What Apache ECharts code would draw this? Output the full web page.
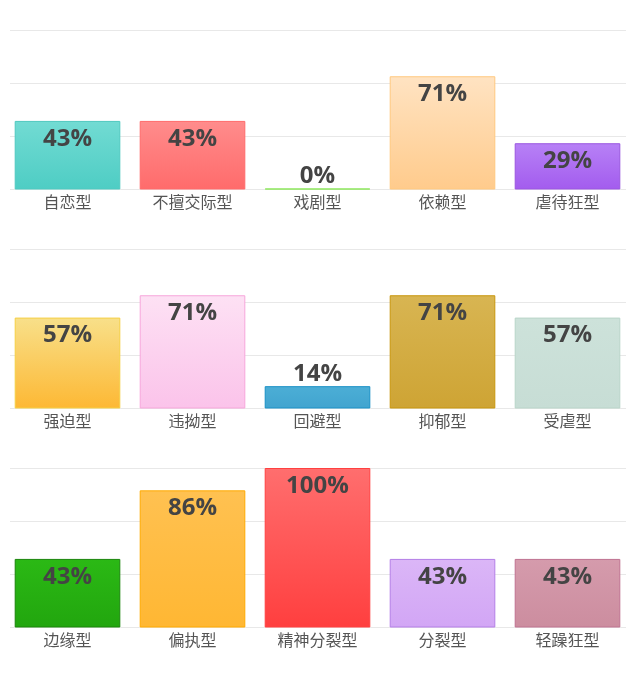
<!DOCTYPE html>
<html>
<head>
<meta charset="utf-8">
<script src="https://cdn.jsdelivr.net/npm/echarts@6/dist/echarts.min.js"></script>
<style>
  html, body { margin: 0; padding: 0; background: #fff; }
  #chart { width: 635px; height: 690px; }
</style>
</head>
<body>
<div id="chart"></div>
<script>
// three rows of personality types, value = percentage
const row1Names = ["自恋型", "不擅交际型", "戏剧型", "依赖型", "虐待狂型"];
const row1Values = [43, 43, 0, 71, 29];
const row2Names = ["强迫型", "违拗型", "回避型", "抑郁型", "受虐型"];
const row2Values = [57, 71, 14, 71, 57];
const row3Names = ["边缘型", "偏执型", "精神分裂型", "分裂型", "轻躁狂型"];
const row3Values = [43, 86, 100, 43, 43];

// [top, bottom, border]
const row1Colors = [
  ["#72dbd3", "#4ecdc4", "#4fc9c0"],
  ["#ff8c8c", "#ff6b6b", "#ff6b6b"],
  ["#a6ef72", "#8be65a", "#8be65a"],
  ["#ffe3c2", "#ffcb8c", "#ffc87f"],
  ["#b781f6", "#a35cee", "#9a56e0"]
];
const row2Colors = [
  ["#f8e08a", "#fdb834", "#f5cf45"],
  ["#fde1f4", "#fbc3ea", "#f7a6db"],
  ["#4caed6", "#41a4cf", "#1a90c6"],
  ["#d8b552", "#cea434", "#c8960c"],
  ["#cde2da", "#c7ddd5", "#b9d5c9"]
];
const row3Colors = [
  ["#2bb915", "#22a60e", "#1a850b"],
  ["#ffc151", "#ffb733", "#ffaa00"],
  ["#ff6e6e", "#ff3f3f", "#ff4040"],
  ["#dbb6f7", "#d2a6f5", "#b47fe7"],
  ["#d59bac", "#cc8d9f", "#bf7290"]
];

const rows = [
  { names: row1Names, values: row1Values, colors: row1Colors, top: 30 },
  { names: row2Names, values: row2Values, colors: row2Colors, top: 249 },
  { names: row3Names, values: row3Values, colors: row3Colors, top: 468 }
];
const rowHeight = 159.5;

const grid = [], xAxis = [], yAxis = [], series = [];

rows.forEach((row, i) => {
  // background grid only for the split lines
  grid.push({ left: 10, right: 9, top: row.top, height: rowHeight });
  // bar grid
  grid.push({ left: 5, right: 5, top: row.top, height: rowHeight });
  const bg = i * 2, fg = i * 2 + 1;
  xAxis.push({ type: "value", gridIndex: bg, min: 0, max: 1, show: false });
  yAxis.push({
    type: "value", gridIndex: bg, min: 0, max: 100, interval: 100 / 3,
    axisLabel: { show: false }, axisLine: { show: false }, axisTick: { show: false },
    splitLine: { lineStyle: { color: "#e8e8e8", width: 1 } }
  });
  xAxis.push({
    type: "category", gridIndex: fg, data: row.names,
    axisLine: { show: false }, axisTick: { show: false },
    axisLabel: { color: "#555", fontSize: 16, margin: 4, fontFamily: "Noto Sans CJK SC" }
  });
  yAxis.push({ type: "value", gridIndex: fg, min: 0, max: 100, show: false });
  series.push({
    type: "bar",
    xAxisIndex: fg,
    yAxisIndex: fg,
    barCategoryGap: "15.5%",
    barMinHeight: 1,
    data: row.values.map((v, j) => ({
      value: v,
      itemStyle: {
        color: new echarts.graphic.LinearGradient(0, 0, 0, 1, [
          { offset: 0, color: row.colors[j][0] },
          { offset: 1, color: row.colors[j][1] }
        ]),
        borderColor: row.colors[j][2],
        borderWidth: 1
      },
      label: { position: v < 20 ? "top" : "insideTop", distance: v < 20 ? 0 : 6 }
    })),
    label: {
      show: true,
      formatter: "{c}%",
      color: "#444",
      fontSize: 24,
      fontWeight: "bold",
      fontFamily: "Open Sans"
    }
  });
});

const chart = echarts.init(document.getElementById("chart"));
chart.setOption({
  animation: false,
  grid: grid,
  xAxis: xAxis,
  yAxis: yAxis,
  series: series
});
</script>
</body>
</html>
